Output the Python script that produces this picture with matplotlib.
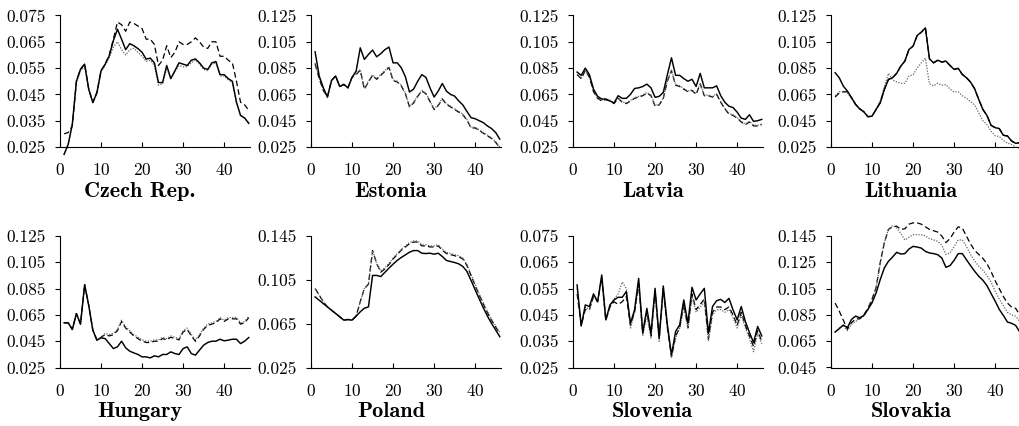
import numpy as np
import matplotlib
matplotlib.use("Agg")
import matplotlib.pyplot as plt

# ===============================
# data
# ===============================
x = np.arange(1, 47)

countries = ["Czech Rep.", "Estonia", "Latvia", "Lithuania",
             "Hungary", "Poland", "Slovenia", "Slovakia"]

yticks_cz = [0.025, 0.035, 0.045, 0.055, 0.065, 0.075]
yticks_ee = [0.025, 0.045, 0.065, 0.085, 0.105, 0.125]
yticks_pl = [0.025, 0.065, 0.105, 0.145]
yticks_sk = [0.045, 0.065, 0.085, 0.105, 0.125, 0.145]

cz_solid = [0.0222, 0.026, 0.0336, 0.050, 0.0546, 0.0565, 0.047, 0.0419, 0.0457, 0.054,
            0.0565, 0.0597, 0.0654, 0.0698, 0.066, 0.062, 0.0643, 0.0635, 0.0624, 0.061,
            0.0584, 0.0588, 0.057, 0.0495, 0.0495, 0.056, 0.051, 0.054, 0.057, 0.0565,
            0.056, 0.058, 0.0585, 0.057, 0.055, 0.0545, 0.057, 0.0575, 0.0525, 0.0525,
            0.051, 0.050, 0.042, 0.037, 0.036, 0.034]
cz_dot = [0.0222, 0.026, 0.0336, 0.0495, 0.054, 0.0555, 0.047, 0.0419, 0.0457, 0.0535,
          0.056, 0.059, 0.063, 0.065, 0.062, 0.060, 0.062, 0.0625, 0.061, 0.0595,
          0.0575, 0.058, 0.056, 0.0485, 0.049, 0.055, 0.051, 0.0535, 0.056, 0.0555,
          0.0555, 0.057, 0.058, 0.0565, 0.0545, 0.054, 0.0565, 0.057, 0.052, 0.052,
          0.0505, 0.0495, 0.042, 0.037, 0.036, 0.034]
cz_dash = [0.030, 0.0305, 0.033, 0.050, 0.0546, 0.0565, 0.047, 0.0419, 0.0457, 0.054,
           0.0565, 0.060, 0.066, 0.0725, 0.0715, 0.069, 0.0725, 0.072, 0.071, 0.070,
           0.066, 0.066, 0.064, 0.056, 0.058, 0.0635, 0.059, 0.061, 0.065, 0.064,
           0.064, 0.065, 0.0665, 0.065, 0.063, 0.0625, 0.065, 0.065, 0.0595, 0.0595,
           0.058, 0.057, 0.050, 0.042, 0.041, 0.039]

ee_solid = [0.0974, 0.079, 0.070, 0.063, 0.0756, 0.079, 0.071, 0.0726, 0.070, 0.078,
            0.0827, 0.1004, 0.0916, 0.0954, 0.0987, 0.0936, 0.096, 0.099, 0.101, 0.089,
            0.089, 0.0853, 0.0784, 0.0668, 0.069, 0.075, 0.080, 0.078, 0.070, 0.063,
            0.0675, 0.0733, 0.0675, 0.065, 0.0637, 0.060, 0.057, 0.052, 0.0473, 0.0465,
            0.045, 0.0435, 0.041, 0.039, 0.036, 0.031]
ee_dot = [0.089, 0.078, 0.069, 0.063, 0.0756, 0.079, 0.071, 0.0726, 0.070, 0.078,
          0.081, 0.084, 0.0695, 0.075, 0.080, 0.077, 0.080, 0.083, 0.086, 0.076,
          0.075, 0.072, 0.066, 0.056, 0.059, 0.064, 0.068, 0.066, 0.060, 0.054,
          0.057, 0.062, 0.058, 0.056, 0.054, 0.052, 0.050, 0.046, 0.040, 0.040,
          0.038, 0.036, 0.034, 0.032, 0.029, 0.025]
ee_dash = [0.088, 0.077, 0.068, 0.063, 0.0756, 0.079, 0.071, 0.0726, 0.070, 0.078,
           0.080, 0.0835, 0.069, 0.0745, 0.0795, 0.0765, 0.0795, 0.0825, 0.0855, 0.0755,
           0.0745, 0.0715, 0.0655, 0.0555, 0.0585, 0.0635, 0.0675, 0.0655, 0.0595, 0.0535,
           0.0565, 0.0615, 0.0575, 0.0555, 0.0535, 0.0515, 0.0495, 0.0455, 0.0395, 0.0395,
           0.0375, 0.0355, 0.0335, 0.0315, 0.0285, 0.0245]

lv_solid = [0.082, 0.0795, 0.085, 0.080, 0.069, 0.0635, 0.0615, 0.0615, 0.060, 0.0585,
            0.064, 0.062, 0.062, 0.065, 0.0695, 0.070, 0.071, 0.0728, 0.070, 0.0628,
            0.0635, 0.0665, 0.080, 0.0928, 0.0795, 0.0795, 0.077, 0.075, 0.0765, 0.071,
            0.081, 0.070, 0.070, 0.070, 0.0715, 0.064, 0.059, 0.056, 0.055, 0.0515,
            0.047, 0.046, 0.0495, 0.0445, 0.045, 0.046]
lv_dot = [0.0805, 0.0775, 0.0835, 0.0785, 0.0675, 0.0625, 0.0605, 0.0615, 0.0605, 0.0585,
          0.0625, 0.0595, 0.0585, 0.0605, 0.0625, 0.0635, 0.0645, 0.0665, 0.0645, 0.0565,
          0.0575, 0.0625, 0.0755, 0.0835, 0.0725, 0.0715, 0.0695, 0.0675, 0.0685, 0.0655,
          0.0735, 0.0645, 0.0645, 0.0635, 0.0655, 0.0595, 0.0545, 0.0505, 0.0495, 0.0475,
          0.0445, 0.0425, 0.0445, 0.0415, 0.0415, 0.0425]
lv_dash = [0.080, 0.077, 0.083, 0.078, 0.067, 0.062, 0.060, 0.061, 0.060, 0.058,
           0.062, 0.059, 0.058, 0.060, 0.062, 0.063, 0.064, 0.066, 0.064, 0.056,
           0.057, 0.062, 0.075, 0.083, 0.072, 0.071, 0.069, 0.067, 0.068, 0.065,
           0.073, 0.064, 0.064, 0.063, 0.065, 0.059, 0.054, 0.050, 0.049, 0.047,
           0.044, 0.042, 0.044, 0.041, 0.041, 0.042]

lt_solid = [0.0815, 0.0777, 0.0713, 0.0675, 0.0625, 0.0574, 0.054, 0.0518, 0.048, 0.0485,
            0.0536, 0.0587, 0.0688, 0.0764, 0.0777, 0.081, 0.0865, 0.0903, 0.0992, 0.1017,
            0.1098, 0.1123, 0.1156, 0.092, 0.089, 0.091, 0.0896, 0.0903, 0.087, 0.084,
            0.0848, 0.0802, 0.0777, 0.0744, 0.0693, 0.0612, 0.0536, 0.049, 0.0415, 0.0397,
            0.039, 0.0339, 0.0334, 0.0296, 0.0278, 0.0283]
lt_dot = [0.064, 0.067, 0.067, 0.066, 0.062, 0.057, 0.0535, 0.0515, 0.048, 0.0485,
          0.054, 0.060, 0.071, 0.081, 0.076, 0.0745, 0.0735, 0.0735, 0.079, 0.080,
          0.085, 0.089, 0.0925, 0.073, 0.0715, 0.0735, 0.072, 0.0725, 0.069, 0.067,
          0.067, 0.064, 0.062, 0.0595, 0.057, 0.051, 0.045, 0.042, 0.037, 0.0335,
          0.033, 0.030, 0.028, 0.027, 0.025, 0.024]
lt_dash = [0.063, 0.066, 0.067, 0.067, 0.0625, 0.0574, 0.054, 0.0518, 0.048, 0.0485,
           0.0536, 0.0587, 0.0688, 0.0764, 0.0777, 0.081, 0.0865, 0.0903, 0.0992, 0.1017,
           0.1098, 0.1123, 0.1156, 0.092, 0.089, 0.091, 0.0896, 0.0903, 0.087, 0.084,
           0.0848, 0.0802, 0.0777, 0.0744, 0.0693, 0.0612, 0.0536, 0.049, 0.0415, 0.0397,
           0.039, 0.0339, 0.0334, 0.0296, 0.0278, 0.0283]

hu_solid = [0.059, 0.059, 0.0539, 0.066, 0.058, 0.088, 0.0723, 0.0534, 0.0458, 0.0475,
            0.047, 0.0432, 0.0394, 0.0407, 0.045, 0.040, 0.0374, 0.0361, 0.0349, 0.0331,
            0.0331, 0.0323, 0.0339, 0.0331, 0.0349, 0.0349, 0.0369, 0.0356, 0.0349, 0.0394,
            0.0407, 0.0356, 0.0344, 0.0382, 0.042, 0.044, 0.045, 0.045, 0.0465, 0.0453,
            0.0458, 0.0465, 0.0465, 0.0432, 0.045, 0.0478]
hu_dot = [0.059, 0.059, 0.0539, 0.066, 0.058, 0.088, 0.0723, 0.0534, 0.0458, 0.048,
          0.051, 0.050, 0.051, 0.054, 0.061, 0.056, 0.053, 0.050, 0.048, 0.046,
          0.045, 0.045, 0.046, 0.046, 0.048, 0.047, 0.049, 0.048, 0.047, 0.053,
          0.055, 0.050, 0.046, 0.050, 0.055, 0.058, 0.059, 0.060, 0.063, 0.061,
          0.063, 0.063, 0.063, 0.059, 0.060, 0.064]
hu_dash = [0.059, 0.059, 0.0539, 0.066, 0.058, 0.088, 0.0723, 0.0534, 0.0458, 0.048,
           0.050, 0.049, 0.050, 0.053, 0.060, 0.055, 0.052, 0.049, 0.047, 0.045,
           0.044, 0.044, 0.045, 0.045, 0.047, 0.046, 0.048, 0.047, 0.046, 0.052,
           0.054, 0.049, 0.045, 0.049, 0.054, 0.057, 0.058, 0.059, 0.062, 0.060,
           0.062, 0.062, 0.062, 0.058, 0.059, 0.063]

pl_solid = [0.0894, 0.0864, 0.0833, 0.0803, 0.0773, 0.0743, 0.0713, 0.0682, 0.0688, 0.0682,
            0.0719, 0.0758, 0.0791, 0.0803, 0.109, 0.109, 0.108, 0.1118, 0.1157, 0.1193,
            0.1227, 0.1254, 0.1278, 0.1302, 0.1317, 0.1317, 0.1293, 0.129, 0.1293, 0.1284,
            0.1293, 0.1263, 0.1227, 0.1217, 0.1208, 0.1196, 0.1172, 0.1127, 0.1045, 0.096,
            0.0876, 0.0794, 0.0719, 0.0652, 0.0592, 0.0531]
pl_dot = [0.097, 0.091, 0.085, 0.0803, 0.0773, 0.0743, 0.0713, 0.0682, 0.0688, 0.0682,
          0.072, 0.085, 0.097, 0.101, 0.1317, 0.120, 0.113, 0.116, 0.120, 0.125,
          0.129, 0.133, 0.136, 0.139, 0.1405, 0.1405, 0.137, 0.137, 0.136, 0.136,
          0.137, 0.133, 0.130, 0.129, 0.128, 0.127, 0.125, 0.119, 0.110, 0.101,
          0.092, 0.084, 0.076, 0.069, 0.063, 0.057]
pl_dash = [0.097, 0.091, 0.085, 0.0803, 0.0773, 0.0743, 0.0713, 0.0682, 0.0688, 0.0682,
           0.072, 0.085, 0.097, 0.101, 0.1317, 0.120, 0.112, 0.115, 0.119, 0.124,
           0.128, 0.132, 0.135, 0.138, 0.1395, 0.1395, 0.136, 0.136, 0.135, 0.135,
           0.136, 0.132, 0.129, 0.128, 0.127, 0.126, 0.124, 0.118, 0.109, 0.100,
           0.091, 0.083, 0.075, 0.068, 0.062, 0.056]

si_solid = [0.0564, 0.0408, 0.0488, 0.0482, 0.053, 0.050, 0.0602, 0.0431, 0.0488, 0.0507,
            0.0517, 0.0517, 0.0539, 0.0418, 0.0469, 0.0589, 0.0383, 0.0475, 0.038, 0.0551,
            0.0361, 0.056, 0.0412, 0.0298, 0.0387, 0.0412, 0.0507, 0.0418, 0.0555, 0.0507,
            0.053, 0.0551, 0.038, 0.0482, 0.0504, 0.0509, 0.0497, 0.0513, 0.0469, 0.0431,
            0.0482, 0.0425, 0.0383, 0.0345, 0.0406, 0.037]
si_dot = [0.055, 0.041, 0.048, 0.047, 0.052, 0.050, 0.059, 0.043, 0.048, 0.051,
          0.053, 0.0575, 0.055, 0.040, 0.046, 0.056, 0.037, 0.045, 0.036, 0.053,
          0.035, 0.054, 0.040, 0.029, 0.036, 0.040, 0.048, 0.040, 0.052, 0.046,
          0.048, 0.050, 0.035, 0.045, 0.047, 0.047, 0.046, 0.047, 0.044, 0.040,
          0.045, 0.040, 0.036, 0.031, 0.038, 0.034]
si_dash = [0.053, 0.041, 0.047, 0.047, 0.052, 0.050, 0.059, 0.043, 0.048, 0.050,
           0.049, 0.050, 0.052, 0.041, 0.046, 0.057, 0.038, 0.046, 0.037, 0.054,
           0.036, 0.055, 0.040, 0.029, 0.037, 0.040, 0.049, 0.040, 0.053, 0.047,
           0.049, 0.051, 0.036, 0.046, 0.048, 0.048, 0.047, 0.048, 0.045, 0.041,
           0.046, 0.041, 0.037, 0.033, 0.039, 0.035]

sk_solid = [0.072, 0.0745, 0.0773, 0.0753, 0.0816, 0.0841, 0.0828, 0.0846, 0.0892, 0.0942,
            0.1018, 0.1119, 0.1207, 0.1258, 0.129, 0.1326, 0.1313, 0.1316, 0.1351, 0.1371,
            0.1366, 0.1358, 0.1333, 0.1321, 0.1316, 0.1308, 0.1283, 0.1212, 0.1225, 0.1265,
            0.1316, 0.1316, 0.127, 0.1225, 0.1182, 0.1144, 0.1114, 0.1073, 0.1013, 0.0955,
            0.0892, 0.0846, 0.0796, 0.0786, 0.077, 0.072]
sk_dot = [0.072, 0.075, 0.077, 0.073, 0.078, 0.080, 0.082, 0.084, 0.089, 0.096,
          0.106, 0.124, 0.140, 0.150, 0.153, 0.151, 0.147, 0.142, 0.144, 0.146,
          0.146, 0.146, 0.145, 0.143, 0.142, 0.141, 0.138, 0.131, 0.132, 0.137,
          0.142, 0.142, 0.137, 0.131, 0.126, 0.122, 0.119, 0.115, 0.110, 0.103,
          0.097, 0.092, 0.087, 0.085, 0.084, 0.080]
sk_dash = [0.094, 0.088, 0.081, 0.074, 0.079, 0.082, 0.082, 0.085, 0.090, 0.097,
           0.106, 0.125, 0.140, 0.150, 0.152, 0.1525, 0.150, 0.1505, 0.154, 0.155,
           0.155, 0.154, 0.152, 0.150, 0.149, 0.148, 0.145, 0.140, 0.143, 0.148,
           0.152, 0.151, 0.145, 0.139, 0.134, 0.131, 0.128, 0.124, 0.118, 0.111,
           0.105, 0.099, 0.094, 0.091, 0.090, 0.085]

panels = [
    (cz_solid, cz_dot, cz_dash, yticks_cz),
    (ee_solid, ee_dot, ee_dash, yticks_ee),
    (lv_solid, lv_dot, lv_dash, yticks_ee),
    (lt_solid, lt_dot, lt_dash, yticks_ee),
    (hu_solid, hu_dot, hu_dash, yticks_ee),
    (pl_solid, pl_dot, pl_dash, yticks_pl),
    (si_solid, si_dot, si_dash, yticks_cz),
    (sk_solid, sk_dot, sk_dash, yticks_sk),
]

# ===============================
# layout (pixels -> figure fraction)
# ===============================
W, H = 1019, 426
plt.rcParams["font.family"] = "cmr10"
plt.rcParams["axes.formatter.use_mathtext"] = True

fig = plt.figure(figsize=(W / 100, H / 100), dpi=100)

lefts = [60, 311, 573, 831]
row_px = [(15.5, 147), (236, 367.5)]   # (top, bottom) of axis in pixels
ax_w = 190

for k, (name, (s, d, da, yt)) in enumerate(zip(countries, panels)):
    r, c = divmod(k, 4)
    top, bot = row_px[r]
    ax = fig.add_axes([lefts[c] / W, 1 - bot / H, ax_w / W, (bot - top) / H])

    ax.plot(x, da, color="black", lw=0.9, ls=(0, (4.5, 2.5)), clip_on=False)
    ax.plot(x, d, color="0.4", lw=0.9, ls=(0, (1, 1.2)), clip_on=False)
    ax.plot(x, s, color="black", lw=1.05, clip_on=False)

    ax.set_xlim(0, 46.3)
    ax.set_ylim(yt[0], yt[-1])
    ax.set_xticks([0, 10, 20, 30, 40])
    ax.set_yticks(yt)
    ax.set_yticklabels(["%.3f" % v for v in yt])

    for sp in ["top", "right"]:
        ax.spines[sp].set_visible(False)
    for sp in ["left", "bottom"]:
        ax.spines[sp].set_linewidth(0.8)

    ax.tick_params(axis="x", direction="in", length=3.5, width=0.8, pad=11, labelsize=12.5)
    ax.tick_params(axis="y", direction="out", length=3.5, width=0.8, pad=7, labelsize=12.5)
    ax.set_xlabel(name, fontfamily="cmb10", fontsize=16)
    ax.xaxis.set_label_coords(0.42, -0.265)

plt.savefig("out.png", dpi=100)
